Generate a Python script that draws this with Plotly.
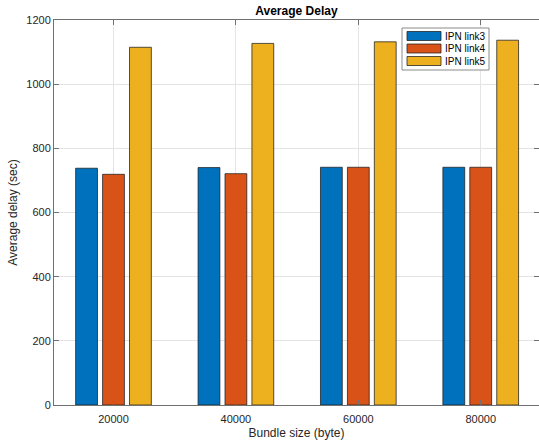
import plotly.graph_objects as go

categories = ["20000", "40000", "60000", "80000"]
x_pos = [1, 2, 3, 4]
series_names = ["IPN link3", "IPN link4", "IPN link5"]
link3 = [738, 740, 741, 741]
link4 = [719, 721, 741, 741]
link5 = [1115, 1127, 1132, 1137]
colors = ["#0072BD", "#D95319", "#EDB120"]
y_ticks = [0, 200, 400, 600, 800, 1000, 1200]

FONT = "Liberation Sans, Arial, Helvetica, sans-serif"

# plot-area geometry in pixels (figure 539x440)
L, R, T, B = 54, 539, 20, 405


def px(xp):
    return (xp - L) / (R - L)


def py(yp):
    return (B - yp) / (B - T)


fig = go.Figure()
for name, vals, col in zip(series_names, [link3, link4, link5], colors):
    fig.add_trace(go.Bar(
        x=x_pos, y=vals, name=name,
        marker=dict(color=col, line=dict(color="rgba(30,30,30,0.75)", width=1)),
        showlegend=False,
    ))

axis_common = dict(
    showline=True, linecolor="#707070", linewidth=1, mirror="ticks",
    ticks="inside", ticklen=5, tickcolor="#707070",
    showgrid=True, gridcolor="#e4e4e4", gridwidth=1,
    zeroline=False,
    tickfont=dict(family=FONT, size=11, color="#262626"),
)

# custom MATLAB-style legend
shapes = [dict(type="rect", xref="paper", yref="paper",
               x0=px(402), x1=px(489), y0=py(70), y1=py(28),
               fillcolor="white", line=dict(color="#8a8a8a", width=1), layer="above")]
annotations = []
row_centers = [36, 48.5, 61]
for name, col, yc in zip(series_names, colors, row_centers):
    shapes.append(dict(type="rect", xref="paper", yref="paper",
                       x0=px(407), x1=px(441), y0=py(yc + 4.5), y1=py(yc - 4.5),
                       fillcolor=col, line=dict(color="rgba(30,30,30,0.75)", width=1),
                       layer="above"))
    annotations.append(dict(xref="paper", yref="paper", x=px(442.5), y=py(yc),
                            xanchor="left", yanchor="middle", showarrow=False,
                            text=name, font=dict(family=FONT, size=10, color="#000")))

fig.update_layout(
    width=539, height=440,
    margin=dict(l=L, r=0, t=T, b=440 - B),
    paper_bgcolor="white", plot_bgcolor="white",
    barmode="group", bargap=0.34, bargroupgap=0.19,
    title=dict(text="<b>Average Delay</b>", x=0.55, xanchor="center",
               y=0.975, yanchor="middle",
               font=dict(family=FONT, size=12, color="#000")),
    xaxis=dict(axis_common, range=[0.514, 4.476], tickvals=x_pos, ticktext=categories,
               ticklabelstandoff=4,
               title=dict(text="Bundle size (byte)", standoff=4,
                          font=dict(family=FONT, size=12, color="#262626"))),
    yaxis=dict(axis_common, range=[0, 1200], tickvals=y_ticks,
               title=dict(text="Average delay (sec)", standoff=6,
                          font=dict(family=FONT, size=12, color="#262626"))),
    shapes=shapes,
    annotations=annotations,
    showlegend=False,
)

fig.write_html("out.html")
